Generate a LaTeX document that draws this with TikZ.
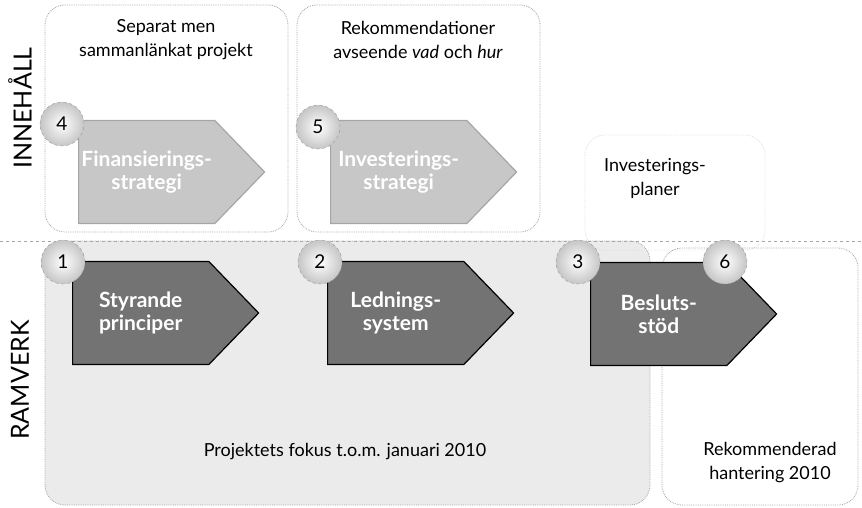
\documentclass[tikz,border=0pt]{standalone}
\usepackage{fontspec}
\setmainfont{Lato}
\usetikzlibrary{shapes.symbols,positioning}

\begin{document}
\begin{tikzpicture}[x=1pt,y=-1pt,
	ram/.style={draw=gray!70, densely dotted, line width=0.8pt, rounded corners=20pt},
	pil/.style={signal, signal to=east, signal pointer angle=92, minimum width=186pt, minimum height=103pt, inner sep=0pt, anchor=west, text=white, align=center, font=\bfseries\fontsize{21}{23}\selectfont, line width=1.2pt},
	mork/.style={pil, fill=black!55, draw=black},
	ljus/.style={pil, fill=black!22, draw=gray!70},
	nr/.style={circle, draw=gray!80, dashed, minimum size=44pt, inner sep=0pt, inner color=white, outer color=gray!45, font=\fontsize{19}{21}\selectfont},
	rubrik/.style={align=center, font=\fontsize{18}{24}\selectfont},
	sida/.style={rotate=90, font=\fontsize{25}{27}\selectfont}]
	\useasboundingbox (0,0) rectangle (862,508);
	% ramar
	\filldraw[ram, fill=black!8] (45,241) rectangle (650,505);
	\draw[ram] (45,5) rectangle (288,232);
	\draw[ram] (297,5) rectangle (540,232);
	\draw[ram, draw=gray!25] (585,135) rectangle (765,250);
	\draw[ram] (662,248) rectangle (858,505);
	\draw[dashed, gray!70] (0,241) -- (862,241);
	% rubriker
	\node[sida] (innehall) at (20,108) {INNEHÅLL};
	\node[sida] (ramverk) at (20,380) {RAMVERK};
	\node[rubrik] (separat) at (166,40) {Separat men\\sammanlänkat projekt};
	\node[rubrik] (rekom) at (418,40) {Rekommendationer\\avseende \textit{vad} och \textit{hur}};
	\node[rubrik] (planer) at (655,178) {Investerings-\\planer};
	\node[rubrik] (fokus) at (345,452) {Projektets fokus t.o.m. januari 2010};
	\node[rubrik] (hantering) at (770,463) {Rekommenderad\\hantering 2010};
	% pilar
	\node[ljus] (finans) at (78,172) {Finansierings-\\strategi};
	\node[ljus] (invest) at (330,172) {Investerings-\\strategi};
	\node[mork] (styr) at (72,313) {Styrande\\principer};
	\node[mork] (led) at (327,313) {Lednings-\\system};
	\node[mork] (beslut) at (590,314) {Besluts-\\stöd};
	% nummer
	\node[nr] (n4) at (62,124) {4};
	\node[nr] (n5) at (318,127) {5};
	\node[nr] (n1) at (63,262) {1};
	\node[nr] (n2) at (320,262) {2};
	\node[nr] (n3) at (578,262) {3};
	\node[nr] (n6) at (725,262) {6};
\end{tikzpicture}
\end{document}
